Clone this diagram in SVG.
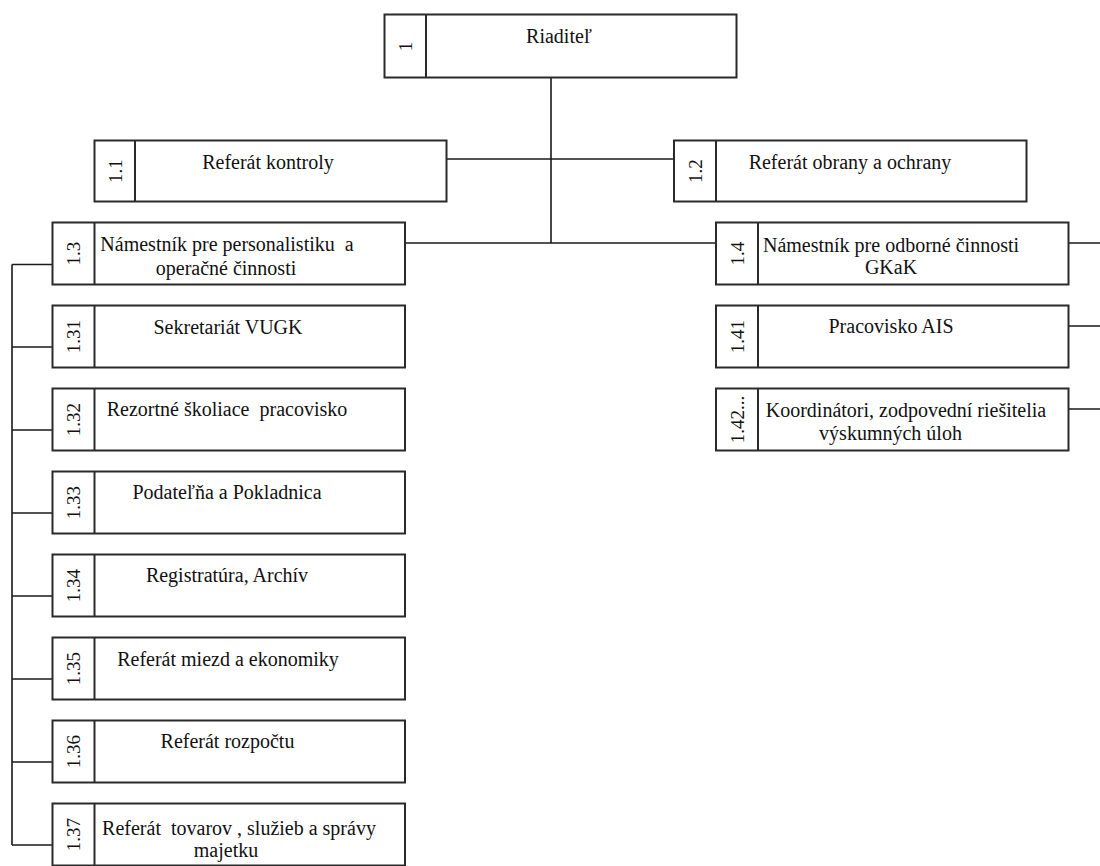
<svg xmlns="http://www.w3.org/2000/svg" width="1100" height="866" viewBox="0 0 1100 866">
<style>
.box{fill:#fff;stroke:#2a2a2a;stroke-width:2}
.div{stroke:#2a2a2a;stroke-width:2}
.con{fill:none;stroke:#1a1a1a;stroke-width:1.6}
text{font-family:'Liberation Serif','Tinos','DejaVu Serif',serif;fill:#111;text-anchor:middle}
.t{font-size:20px}
.n{font-size:19px;dominant-baseline:central}
</style>
<rect width="1100" height="866" fill="#fff"/>
<g id="connectors">
<path class="con" d="M551 78V243M446.5 159H674M405 243H716"/>
<path class="con" d="M1069 243H1100M1069 326H1100M1069 409H1100"/>
<path class="con" d="M12 264.5V845M12 264.5H52M12 347H52M12 430H52M12 513H52M12 596H52M12 679H52M12 762H52M12 845H52"/>
</g>
<g id="n1">
<rect class="box" x="384.5" y="14.5" width="352" height="63"/>
<line class="div" x1="426" y1="14.5" x2="426" y2="77.5"/>
<text class="n" transform="translate(405,46.5) rotate(-90)">1</text>
<text class="t" x="559" y="43">Riaditeľ</text>
</g>
<g id="n1_1">
<rect class="box" x="94.5" y="140.5" width="352" height="61"/>
<line class="div" x1="135" y1="140.5" x2="135" y2="201.5"/>
<text class="n" transform="translate(115,171) rotate(-90)">1.1</text>
<text class="t" x="268" y="169">Referát kontroly</text>
</g>
<g id="n1_2">
<rect class="box" x="674" y="140.5" width="352.5" height="61"/>
<line class="div" x1="716" y1="140.5" x2="716" y2="201.5"/>
<text class="n" transform="translate(695,171) rotate(-90)">1.2</text>
<text class="t" x="850" y="169">Referát obrany a ochrany</text>
</g>
<g id="n1_3">
<rect class="box" x="52.5" y="222.5" width="352.5" height="62"/>
<line class="div" x1="94.5" y1="222.5" x2="94.5" y2="284.5"/>
<text class="n" transform="translate(73,253.5) rotate(-90)">1.3</text>
<text class="t" x="227" y="251" xml:space="preserve">Námestník pre personalistiku  a</text>
<text class="t" x="226" y="275">operačné činnosti</text>
</g>
<g id="n1_31">
<rect class="box" x="52.5" y="305.5" width="352.5" height="62"/>
<line class="div" x1="94.5" y1="305.5" x2="94.5" y2="367.5"/>
<text class="n" transform="translate(73,336.5) rotate(-90)">1.31</text>
<text class="t" x="228" y="334">Sekretariát VUGK</text>
</g>
<g id="n1_32">
<rect class="box" x="52.5" y="388.5" width="352.5" height="62"/>
<line class="div" x1="94.5" y1="388.5" x2="94.5" y2="450.5"/>
<text class="n" transform="translate(73,419.5) rotate(-90)">1.32</text>
<text class="t" x="227" y="416" xml:space="preserve">Rezortné školiace  pracovisko</text>
</g>
<g id="n1_33">
<rect class="box" x="52.5" y="471.5" width="352.5" height="62"/>
<line class="div" x1="94.5" y1="471.5" x2="94.5" y2="533.5"/>
<text class="n" transform="translate(73,502.5) rotate(-90)">1.33</text>
<text class="t" x="227" y="499">Podateľňa a Pokladnica</text>
</g>
<g id="n1_34">
<rect class="box" x="52.5" y="554.5" width="352.5" height="62"/>
<line class="div" x1="94.5" y1="554.5" x2="94.5" y2="616.5"/>
<text class="n" transform="translate(73,585.5) rotate(-90)">1.34</text>
<text class="t" x="227" y="582">Registratúra, Archív</text>
</g>
<g id="n1_35">
<rect class="box" x="52.5" y="637.5" width="352.5" height="62"/>
<line class="div" x1="94.5" y1="637.5" x2="94.5" y2="699.5"/>
<text class="n" transform="translate(73,668.5) rotate(-90)">1.35</text>
<text class="t" x="228" y="666">Referát miezd a ekonomiky</text>
</g>
<g id="n1_36">
<rect class="box" x="52.5" y="720.5" width="352.5" height="62"/>
<line class="div" x1="94.5" y1="720.5" x2="94.5" y2="782.5"/>
<text class="n" transform="translate(73,751.5) rotate(-90)">1.36</text>
<text class="t" x="227.5" y="748">Referát rozpočtu</text>
</g>
<g id="n1_37">
<rect class="box" x="52.5" y="803.5" width="352.5" height="62"/>
<line class="div" x1="94.5" y1="803.5" x2="94.5" y2="865.5"/>
<text class="n" transform="translate(73,834.5) rotate(-90)">1.37</text>
<text class="t" x="239" y="835" xml:space="preserve">Referát  tovarov , služieb a správy</text>
<text class="t" x="226" y="857">majetku</text>
</g>
<g id="n1_4">
<rect class="box" x="716" y="222.5" width="352.5" height="62"/>
<line class="div" x1="758" y1="222.5" x2="758" y2="284.5"/>
<text class="n" transform="translate(737,253.5) rotate(-90)">1.4</text>
<text class="t" x="891" y="251.5">Námestník pre odborné činnosti</text>
<text class="t" x="891" y="274">GKaK</text>
</g>
<g id="n1_41">
<rect class="box" x="716" y="305.5" width="352.5" height="62"/>
<line class="div" x1="758" y1="305.5" x2="758" y2="367.5"/>
<text class="n" transform="translate(737,336.5) rotate(-90)">1.41</text>
<text class="t" x="891" y="333">Pracovisko AIS</text>
</g>
<g id="n1_42">
<rect class="box" x="716" y="388.5" width="352.5" height="62"/>
<line class="div" x1="758" y1="388.5" x2="758" y2="450.5"/>
<text class="n" transform="translate(737,419.5) rotate(-90)">1.42...</text>
<text class="t" x="906" y="417">Koordinátori, zodpovední riešitelia</text>
<text class="t" x="890.5" y="440">výskumných úloh</text>
</g>
</svg>
